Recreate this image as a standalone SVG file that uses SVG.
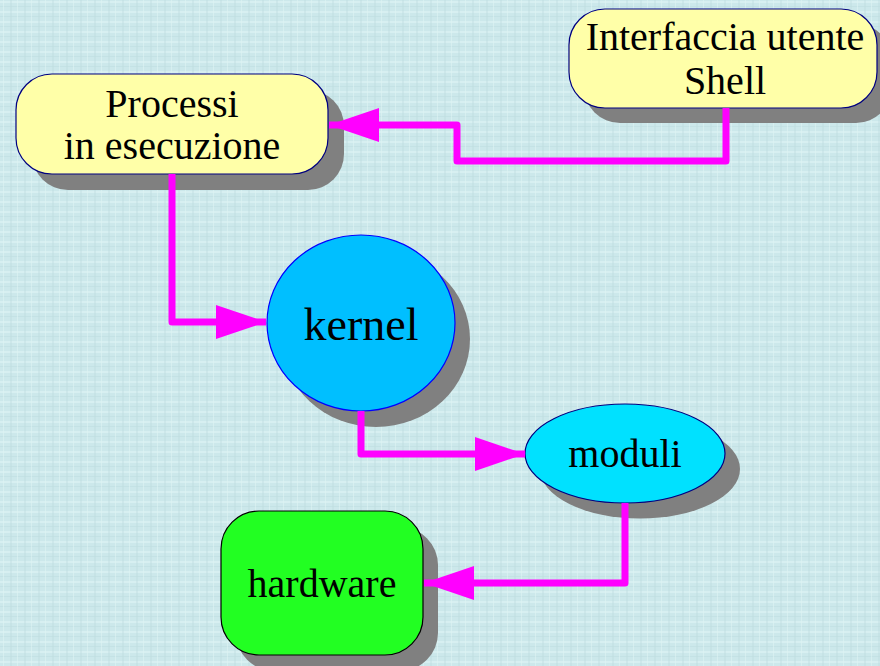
<svg xmlns="http://www.w3.org/2000/svg" width="880" height="666" viewBox="0 0 880 666">
  <defs>
    <!-- woven paper texture for the backdrop -->
    <pattern id="weave" width="14" height="10" patternUnits="userSpaceOnUse">
      <rect width="14" height="10" fill="#cce8eb"/>
      <rect x="0" y="1" width="14" height="2" fill="#d9f1f2" opacity="0.8"/>
      <rect x="0" y="6" width="14" height="1" fill="#bcdbdf" opacity="0.5"/>
      <rect x="3" y="0" width="1" height="10" fill="#ddf3f4" opacity="0.6"/>
      <rect x="10" y="0" width="2" height="10" fill="#bddcdf" opacity="0.4"/>
    </pattern>
    <marker id="arrow" markerUnits="userSpaceOnUse" markerWidth="52" markerHeight="36" refX="50" refY="17" orient="auto">
      <path d="M0,0 L50,17 L0,34 Z" fill="#ff00ff"/>
    </marker>
  </defs>
  <style>
    .shadow { fill: #808080; }
    .label { font-family: "Liberation Serif", "Times New Roman", serif; fill: #000; text-anchor: middle; }
    .link { fill: none; stroke: #ff00ff; stroke-width: 7; stroke-linejoin: round; marker-end: url(#arrow); }
  </style>

  <rect width="880" height="666" fill="url(#weave)"/>

  <g id="processi">
    <rect class="shadow" x="32" y="90" width="312" height="100" rx="36"/>
    <rect x="16" y="74" width="312" height="100" rx="36" fill="#ffffa8" stroke="#000080" stroke-width="1.2"/>
    <text class="label" x="172" y="117" font-size="40">Processi</text>
    <text class="label" x="172" y="159" font-size="40">in esecuzione</text>
  </g>

  <g id="interfaccia">
    <rect class="shadow" x="584" y="24" width="308" height="99" rx="36"/>
    <rect x="569" y="9" width="308" height="99" rx="36" fill="#ffffa8" stroke="#000080" stroke-width="1.2"/>
    <text class="label" x="725" y="50" font-size="40">Interfaccia utente</text>
    <text class="label" x="725" y="94" font-size="40">Shell</text>
  </g>

  <g id="kernel">
    <ellipse class="shadow" cx="376" cy="339" rx="94" ry="88"/>
    <ellipse cx="361" cy="323" rx="94" ry="88" fill="#00bfff" stroke="#0000ff" stroke-width="1.2"/>
    <text class="label" x="361" y="340" font-size="46">kernel</text>
  </g>

  <g id="moduli">
    <ellipse class="shadow" cx="640" cy="469" rx="100" ry="49.5"/>
    <ellipse cx="625" cy="453.5" rx="100" ry="49.5" fill="#00e1ff" stroke="#000080" stroke-width="1.2"/>
    <text class="label" x="625" y="467" font-size="40">moduli</text>
  </g>

  <g id="hardware">
    <rect class="shadow" x="236" y="527" width="202" height="144" rx="38"/>
    <rect x="221" y="511" width="202" height="144" rx="38" fill="#22ff22" stroke="#000" stroke-width="1.2"/>
    <text class="label" x="322" y="597" font-size="40">hardware</text>
  </g>

  <g id="connectors">
    <path class="link" d="M726,108 V161 H457 V125 H329"/>
    <path class="link" d="M172,174 V322 H266"/>
    <path class="link" d="M361,411 V454 H525"/>
    <path class="link" d="M625,503 V583 H424"/>
  </g>
</svg>
